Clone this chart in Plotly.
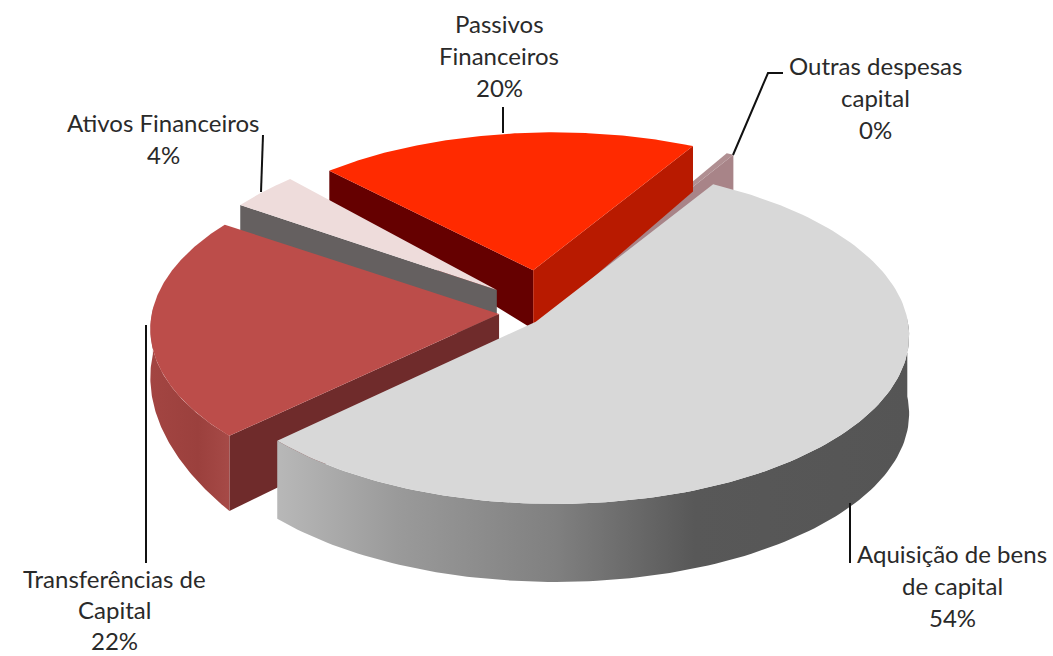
import numpy as np
import plotly.graph_objects as go

# data: clockwise from the first slice
categories = ["Outras despesas capital", "Aquisição de bens de capital", "Transferências de Capital",
              "Ativos Financeiros", "Passivos Financeiros"]
shares = [0.4, 54.0, 21.9, 3.7, 20.0]
label_lines = [["Outras despesas", "capital"], ["Aquisição de bens", "de capital"], ["Transferências de", "Capital"],
               ["Ativos Financeiros"], ["Passivos", "Financeiros"]]
label_x = [875, 952, 114, 163, 499]
label_y = [65, 553, 578, 122, 23]
label_step = [32, 32, 31, 32, 32]

# style per slice
top_colors = ["#b08f92", "#d8d8d8", "#bc4d4a", "#eedcdb", "#ff2a00"]
start_wall = [None, None, "#6f2b2b", "#656060", "#650000"]
end_wall = ["#a88488", None, None, None, "#b81a00"]
rim_scale = [None,
             [[0, "#b8b8b8"], [0.19, "#9a9a9a"], [0.44, "#808080"], [0.66, "#585858"], [1, "#555555"]],
             [[0, "#a34542"], [0.6, "#9b403d"], [1, "#a64a47"]],
             None, None]
pull_u = [0.06, -0.012, -0.118, -0.126, -0.02]
pull_v = [-0.17, 0.01, -0.036, -0.18, -0.30]
rim_shift_v = [0, 0, 0, 0, 0]
radius_u = [1, 1.01, 1.06, 1, 0.97]
radius_v = [1, 0.985, 1.02, 1, 0.91]
draw_order = [0, 4, 3, 2, 1]

# camera
first_angle = 30.0
CX, CY, RX, RY, P, Q = 540, 320, 350, 170, 0.08, 0.05
DEPTH, DEPTH_POW, DEPTH_MAX = 70, 7, 78


def project(u, v):
    w = 1 - P * v - Q * u
    return CX + RX * u / w, CY + RY * v / w, np.minimum(DEPTH / w ** DEPTH_POW, DEPTH_MAX)


def edge(a, i):
    return (pull_u[i] + radius_u[i] * np.sin(np.radians(a)),
            pull_v[i] + rim_shift_v[i] - radius_v[i] * np.cos(np.radians(a)))


def wall(fig, xa, ya, da, color=None, scale=None):
    xa, ya, da = map(np.asarray, (xa, ya, da))
    xs = np.r_[xa, xa[::-1], xa[0]]
    ys = np.r_[ya, (ya + da)[::-1], ya[0]]
    kw = {"fillcolor": color} if color else {"fillgradient": dict(type="horizontal", colorscale=scale)}
    fig.add_trace(go.Scatter(x=xs, y=ys, mode="lines", line=dict(width=0), fill="toself", hoverinfo="skip", **kw))


fig = go.Figure()
bounds = first_angle + np.cumsum([0] + [s * 3.6 for s in shares])
for i in draw_order:
    a0, a1 = bounds[i], bounds[i + 1]
    ax, ay, ad = project(pull_u[i], pull_v[i])
    arc = np.linspace(a0, a1, 160)
    eu, ev = edge(arc, i)
    rx, ry, rd = project(eu, ev)
    if start_wall[i]:
        wall(fig, [ax, rx[0]], [ay, ry[0]], [ad, rd[0]], color=start_wall[i])
    if end_wall[i]:
        wall(fig, [ax, rx[-1]], [ay, ry[-1]], [ad, rd[-1]], color=end_wall[i])
    if rim_scale[i]:
        front = (arc >= 88) & (arc <= 272)
        wall(fig, rx[front], ry[front], rd[front], scale=rim_scale[i])
    fig.add_trace(go.Scatter(x=np.r_[ax, rx, ax], y=np.r_[ay, ry, ay], mode="lines", line=dict(width=0),
                             fill="toself", fillcolor=top_colors[i], hoverinfo="skip"))

for i, lines in enumerate(label_lines):
    rows = lines + [f"{round(shares[i])}%"]
    for k, t in enumerate(rows):
        fig.add_annotation(x=label_x[i], y=label_y[i] + k * label_step[i], text=t, showarrow=False, xanchor="center",
                           yanchor="middle", font=dict(family="Lato", size=24, color="#2a2a2a"))

leaders = [[(503, 107), (503, 133)],
           [(783, 73), (768, 73), (733, 155)],
           [(263, 135), (261, 192)],
           [(146, 325), (146, 563)],
           [(850, 503), (850, 563)]]
for pts in leaders:
    path = "M " + " L ".join(f"{x} {y}" for x, y in pts)
    fig.add_shape(type="path", path=path, line=dict(color="#111111", width=2))

fig.update_layout(width=1053, height=656, margin=dict(l=0, r=0, t=0, b=0), showlegend=False,
                  plot_bgcolor="white", paper_bgcolor="white",
                  xaxis=dict(visible=False, range=[0, 1053]),
                  yaxis=dict(visible=False, range=[656, 0]))
fig.write_html("out.html", config={"displayModeBar": False},
               post_script="document.body.style.margin='0';document.body.style.overflow='hidden';")
